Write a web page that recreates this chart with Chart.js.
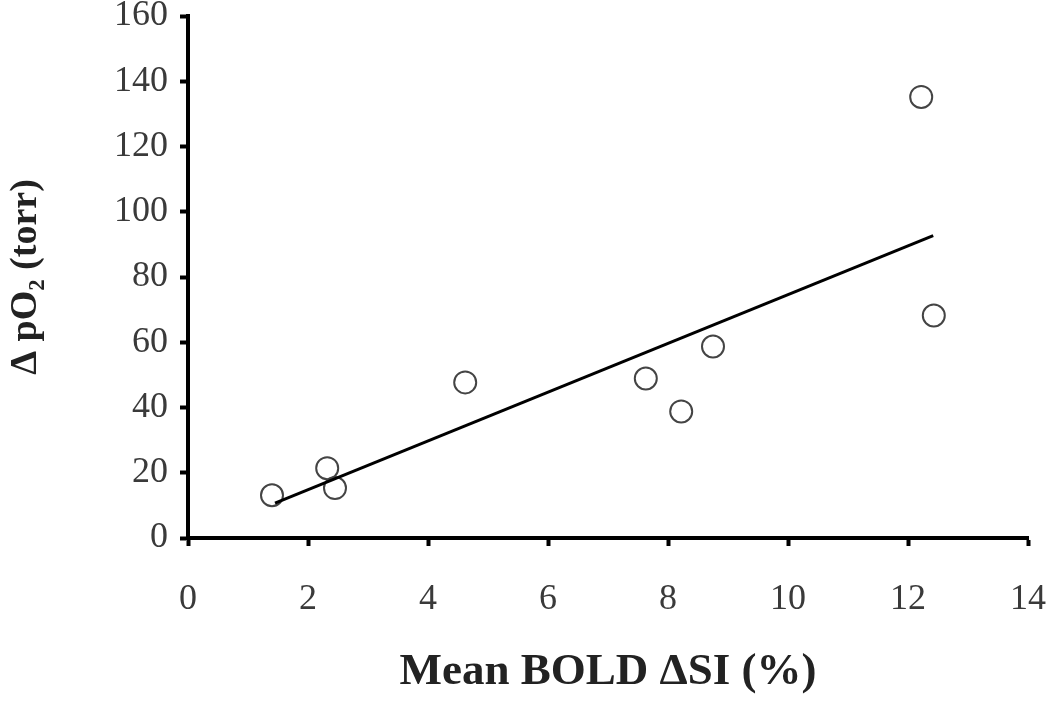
<!DOCTYPE html>
<html>
<head>
<meta charset="utf-8">
<script src="https://cdn.jsdelivr.net/npm/chart.js@4"></script>
<style>
  html, body { margin: 0; padding: 0; background: #fff; }
  #wrap { width: 1050px; height: 704px; }
</style>
</head>
<body>
<div id="wrap"><canvas id="grafico" width="1050" height="704"></canvas></div>
<script>
// Dados
const boldSI   = [1.4, 2.32, 2.45, 4.62, 7.63, 8.22, 8.75, 12.22, 12.43];
const deltaPO2 = [13.1, 21.4, 15.3, 47.7, 48.9, 38.8, 58.7, 135.2, 68.2];

// Reta de regressão (extremos)
const fitX = [1.45, 12.42];
const fitY = [10.7, 92.7];

// Marcas dos eixos
const xTicks = [0, 2, 4, 6, 8, 10, 12, 14];
const yTicks = [0, 20, 40, 60, 80, 100, 120, 140, 160];

const pontos = boldSI.map((x, i) => ({ x: x, y: deltaPO2[i] }));
const reta = fitX.map((x, i) => ({ x: x, y: fitY[i] }));

const tickFont = { family: "'Liberation Serif', serif", size: 36 };

new Chart(document.getElementById("grafico").getContext("2d"), {
  type: "scatter",
  data: {
    datasets: [
      {
        type: "line",
        data: reta,
        borderColor: "#000",
        borderWidth: 3,
        pointRadius: 0,
        fill: false
      },
      {
        data: pontos,
        pointStyle: "circle",
        pointRadius: 11,
        pointBorderWidth: 2,
        pointBorderColor: "#444",
        pointBackgroundColor: "rgba(255,255,255,0)"
      }
    ]
  },
  options: {
    responsive: false,
    animation: false,
    layout: { padding: { top: 16, right: 22, bottom: 0, left: 0 } },
    plugins: { legend: { display: false }, tooltip: { enabled: false } },
    scales: {
      x: {
        type: "linear",
        min: 0,
        max: 14,
        afterBuildTicks: s => { s.ticks = xTicks.map(v => ({ value: v })); },
        afterFit: s => { s.height = 166; s.paddingLeft = 0; s.paddingRight = 0; },
        border: { display: true, color: "#000", width: 4 },
        grid: { drawOnChartArea: false, drawTicks: true, tickLength: 8, tickWidth: 4, tickColor: "#000" },
        ticks: { color: "#3a3a3a", font: tickFont, padding: 32, maxRotation: 0 },
        title: {
          display: true,
          text: "Mean BOLD \u0394SI (%)",
          color: "#222",
          font: { family: "'Liberation Serif', serif", size: 45, weight: "bold" },
          padding: { top: 0, bottom: 5 }
        }
      },
      y: {
        type: "linear",
        min: 0,
        max: 160,
        afterBuildTicks: s => { s.ticks = yTicks.map(v => ({ value: v })); },
        afterFit: s => { s.width = 188; s.paddingTop = 0; s.paddingBottom = 0; },
        border: { display: true, color: "#000", width: 4 },
        grid: { drawOnChartArea: false, drawTicks: true, tickLength: 8, tickWidth: 4, tickColor: "#000" },
        ticks: { color: "#3a3a3a", font: tickFont, padding: 12 },
        title: {
          display: true,
          text: "\u0394 pO\u2082 (torr)",
          color: "#222",
          font: { family: "'Liberation Serif', serif", size: 38, weight: "bold" },
          padding: { top: 3, bottom: 0 }
        }
      }
    }
  }
});
</script>
</body>
</html>
